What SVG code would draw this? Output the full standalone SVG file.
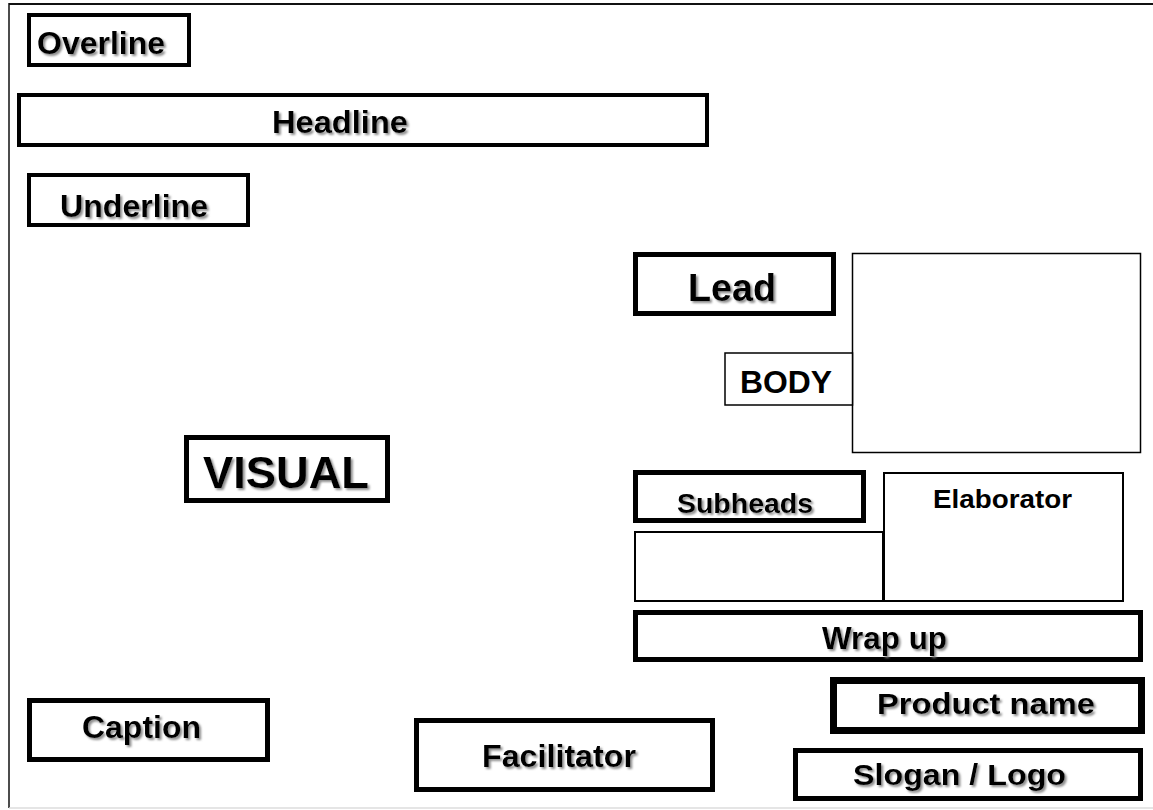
<svg xmlns="http://www.w3.org/2000/svg" width="1153" height="810" viewBox="0 0 1153 810">
<defs>
<filter id="sh" x="-10%" y="-20%" width="120%" height="150%">
<feDropShadow dx="2" dy="2" stdDeviation="0.8" flood-color="#808080" flood-opacity="0.9"/>
</filter>
<style>
.box{fill:#fff;stroke:#000}
.t{font-family:"Liberation Sans",Arial,sans-serif;font-weight:bold;fill:#000}
.s{filter:url(#sh)}
</style>
</defs>
<rect x="0" y="0" width="1153" height="810" fill="#fff"/>
<g id="frame">
<line x1="9" y1="4" x2="1153" y2="4" stroke="#111" stroke-width="2"/>
<line x1="9" y1="3" x2="9" y2="808" stroke="#111" stroke-width="1.5"/>
<line x1="9" y1="808" x2="1153" y2="808" stroke="#ddd" stroke-width="1.5"/>
</g>
<g id="overline">
<rect class="box" x="29" y="15" width="160" height="50" stroke-width="4"/>
<text class="t s" x="37" y="54" font-size="32" textLength="128" lengthAdjust="spacingAndGlyphs">Overline</text>
</g>
<g id="headline">
<rect class="box" x="19" y="95" width="688" height="50" stroke-width="4"/>
<text class="t s" x="272" y="133" font-size="32" textLength="136" lengthAdjust="spacingAndGlyphs">Headline</text>
</g>
<g id="underline">
<rect class="box" x="29" y="175" width="219" height="50" stroke-width="4"/>
<text class="t s" x="60" y="217" font-size="32" textLength="148" lengthAdjust="spacingAndGlyphs">Underline</text>
</g>
<g id="lead">
<rect class="box" x="635.5" y="254.5" width="198" height="59" stroke-width="5"/>
<text class="t s" x="688" y="301" font-size="38" textLength="88" lengthAdjust="spacingAndGlyphs">Lead</text>
</g>
<g id="body-area">
<rect class="box" x="852.5" y="253.5" width="288" height="199" stroke-width="1.5"/>
</g>
<g id="body">
<rect class="box" x="725" y="353" width="127.5" height="52" stroke-width="1.5"/>
<text class="t" x="740" y="393" font-size="31" textLength="92" lengthAdjust="spacingAndGlyphs">BODY</text>
</g>
<g id="visual">
<rect class="box" x="186.5" y="437.5" width="201" height="63" stroke-width="5"/>
<text class="t s" x="203" y="488" font-size="45" textLength="166" lengthAdjust="spacingAndGlyphs">VISUAL</text>
</g>
<g id="subheads">
<rect class="box" x="635.5" y="472.5" width="228" height="48" stroke-width="5"/>
<text class="t s" x="677" y="513" font-size="28" textLength="136" lengthAdjust="spacingAndGlyphs">Subheads</text>
</g>
<g id="subheads-text">
<rect class="box" x="635" y="532" width="248" height="69" stroke-width="2"/>
</g>
<g id="elaborator">
<rect class="box" x="884" y="473" width="239" height="128" stroke-width="2"/>
<text class="t" x="933" y="508" font-size="26" textLength="139" lengthAdjust="spacingAndGlyphs">Elaborator</text>
</g>
<g id="wrapup">
<rect class="box" x="635.5" y="612.5" width="505" height="47" stroke-width="5"/>
<text class="t s" x="822" y="649" font-size="31" textLength="125" lengthAdjust="spacingAndGlyphs">Wrap up</text>
</g>
<g id="product">
<rect class="box" x="833.5" y="680.5" width="308" height="50" stroke-width="7"/>
<text class="t s" x="877" y="714" font-size="30" textLength="218" lengthAdjust="spacingAndGlyphs">Product name</text>
</g>
<g id="slogan">
<rect class="box" x="795.5" y="750.5" width="345" height="48" stroke-width="5"/>
<text class="t s" x="853" y="785" font-size="30" textLength="213" lengthAdjust="spacingAndGlyphs">Slogan / Logo</text>
</g>
<g id="caption">
<rect class="box" x="29.5" y="700.5" width="238" height="59" stroke-width="5"/>
<text class="t s" x="82" y="738" font-size="31" textLength="119" lengthAdjust="spacingAndGlyphs">Caption</text>
</g>
<g id="facilitator">
<rect class="box" x="416.5" y="720.5" width="296" height="69" stroke-width="5"/>
<text class="t s" x="482" y="767" font-size="32" textLength="154" lengthAdjust="spacingAndGlyphs">Facilitator</text>
</g>
</svg>
